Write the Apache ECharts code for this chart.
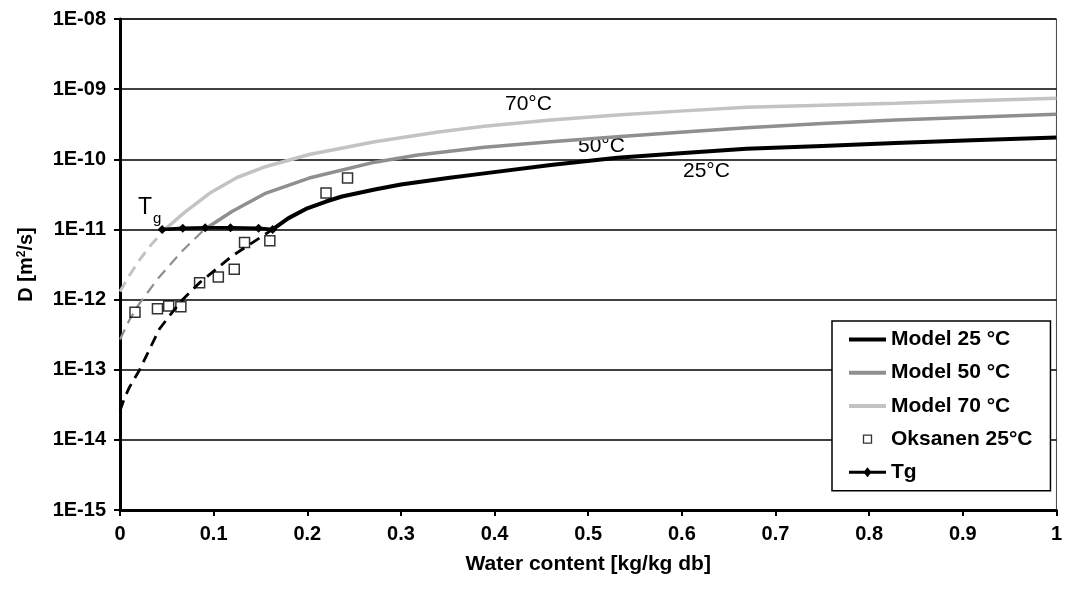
<!DOCTYPE html>
<html>
<head>
<meta charset="utf-8">
<title>D vs water content</title>
<script src="https://cdn.jsdelivr.net/npm/echarts@6/dist/echarts.min.js"></script>
<style>
  html, body { margin: 0; padding: 0; background: #fff; }
  #chart { width: 1065px; height: 589px; }
</style>
</head>
<body>
<div id="chart"></div>
<script>
// values: x = water content [kg/kg db], D in m2/s
const x25Dash = [0, 0.005, 0.01, 0.021, 0.042, 0.064, 0.085, 0.12, 0.163]
const d25Dash = [2.6e-14, 4.0e-14, 5.6e-14, 1.0e-13, 3.8e-13, 9.1e-13, 1.74e-12, 4.2e-12, 1.0e-11]
const x25 = [0.163, 0.18, 0.2, 0.22, 0.237, 0.272, 0.3, 0.35, 0.389, 0.46, 0.531, 0.602, 0.669, 0.75, 0.828, 0.91, 1.0]
const d25 = [1.0e-11, 1.45e-11, 2.0e-11, 2.5e-11, 2.95e-11, 3.7e-11, 4.37e-11, 5.4e-11, 6.3e-11, 8.3e-11, 1.05e-10, 1.23e-10, 1.41e-10, 1.55e-10, 1.7e-10, 1.87e-10, 2.05e-10]

const x50Dash = [0, 0.01, 0.02, 0.04, 0.065, 0.09]
const d50Dash = [2.7e-13, 5.1e-13, 8.5e-13, 1.95e-12, 4.7e-12, 1.0e-11]
const x50 = [0.09, 0.12, 0.156, 0.202, 0.272, 0.318, 0.389, 0.46, 0.531, 0.602, 0.669, 0.75, 0.828, 0.91, 1.0]
const d50 = [1.0e-11, 1.82e-11, 3.3e-11, 5.4e-11, 9.1e-11, 1.15e-10, 1.48e-10, 1.78e-10, 2.09e-10, 2.45e-10, 2.82e-10, 3.24e-10, 3.63e-10, 3.98e-10, 4.37e-10]

const x70Dash = [0, 0.01, 0.021, 0.033, 0.048]
const d70Dash = [1.3e-12, 2.2e-12, 3.7e-12, 6.0e-12, 1.0e-11]
const x70 = [0.048, 0.07, 0.096, 0.125, 0.156, 0.202, 0.272, 0.34, 0.389, 0.46, 0.531, 0.602, 0.669, 0.75, 0.828, 0.91, 1.0]
const d70 = [1.0e-11, 1.8e-11, 3.3e-11, 5.5e-11, 7.9e-11, 1.17e-10, 1.78e-10, 2.45e-10, 2.95e-10, 3.63e-10, 4.27e-10, 4.9e-10, 5.5e-10, 5.9e-10, 6.3e-10, 6.84e-10, 7.4e-10]

const xOksanen = [0.016, 0.040, 0.052, 0.065, 0.085, 0.105, 0.122, 0.133, 0.160, 0.220, 0.243]
const dOksanen = [6.6e-13, 7.4e-13, 8.1e-13, 7.9e-13, 1.74e-12, 2.1e-12, 2.7e-12, 6.5e-12, 6.9e-12, 3.3e-11, 5.4e-11]

const xTg = [0.045, 0.067, 0.091, 0.118, 0.148, 0.163]
const dTg = [1.0e-11, 1.04e-11, 1.06e-11, 1.06e-11, 1.04e-11, 1.0e-11]

const yTickLabels = ['1E-15', '1E-14', '1E-13', '1E-12', '1E-11', '1E-10', '1E-09', '1E-08']
const legendNames = ['Model 25 °C', 'Model 50 °C', 'Model 70 °C', 'Oksanen 25°C', 'Tg']

const FONT = '"Liberation Sans", Arial, sans-serif'
const GREY50 = '#8f8f8f'
const GREY70 = '#c3c3c3'

const pairs = (xs, ys) => xs.map((x, i) => [x, ys[i]])

let chart = echarts.init(document.getElementById('chart'))

function lineSeries (name, xs, ys, color, width, dashed) {
  return {
    name: name,
    type: 'line',
    data: pairs(xs, ys),
    symbol: 'none',
    lineStyle: { color: color, width: width, type: dashed ? [11, 7] : 'solid' },
    itemStyle: { color: color },
    z: 3
  }
}

// legend icons: plain bar for the model lines, bar + diamond for Tg
const barIcon = 'path://M0,0H37V4H0Z'
const tgIcon = 'path://M0,5.5H37V8.5H0Z M18.5,2L22.5,7L18.5,12L14.5,7Z'

let option = {
  animation: false,
  backgroundColor: '#fff',
  grid: {
    left: 120, right: 3, top: 19, bottom: 79,
    show: true, borderColor: '#444', borderWidth: 1
  },
  xAxis: {
    type: 'value',
    min: 0, max: 1, interval: 0.1,
    name: 'Water content [kg/kg db]',
    nameLocation: 'middle',
    nameGap: 44,
    nameTextStyle: { fontFamily: FONT, fontWeight: 'bold', fontSize: 21, color: '#000' },
    axisLine: { lineStyle: { color: '#000', width: 3 } },
    axisTick: { show: true, length: 6, lineStyle: { color: '#000', width: 2 } },
    axisLabel: { fontFamily: FONT, fontWeight: 'bold', fontSize: 20, color: '#000', margin: 14 },
    splitLine: { show: false }
  },
  yAxis: {
    type: 'log',
    logBase: 10,
    min: 1e-15, max: 1e-8, interval: 1,
    name: 'D [m{sup|2}/s]',
    nameLocation: 'middle',
    nameGap: 84,
    nameTextStyle: {
      fontFamily: FONT, fontWeight: 'bold', fontSize: 20, color: '#000',
      rich: { sup: { fontFamily: FONT, fontWeight: 'bold', fontSize: 12, color: '#000', verticalAlign: 'top', padding: [0, 0, 8, 0] } }
    },
    axisLine: { show: true, lineStyle: { color: '#000', width: 3 } },
    axisTick: { show: true, length: 6, lineStyle: { color: '#000', width: 2 } },
    axisLabel: {
      fontFamily: FONT, fontWeight: 'bold', fontSize: 20, color: '#000', margin: 14,
      formatter: v => yTickLabels[Math.round(Math.log10(v)) + 15]
    },
    splitLine: { show: true, lineStyle: { color: '#000', width: 1.6 } },
    minorTick: { show: false }
  },
  legend: {
    orient: 'vertical',
    left: 832, top: 321,
    padding: [8, 18, 8, 17],
    itemGap: 12.2,
    itemWidth: 37,
    itemHeight: 14,
    backgroundColor: '#fff',
    borderColor: '#000',
    borderWidth: 1.5,
    selectedMode: false,
    textStyle: { fontFamily: FONT, fontWeight: 'bold', fontSize: 21, color: '#000' },
    data: [
      { name: legendNames[0], icon: barIcon, itemStyle: { color: '#000' } },
      { name: legendNames[1], icon: barIcon, itemStyle: { color: GREY50 } },
      { name: legendNames[2], icon: barIcon, itemStyle: { color: GREY70 } },
      {
        name: legendNames[3],
        icon: 'path://M0,0L0,0M14,14L14,14M3,3H11V11H3Z',
        itemStyle: { color: 'rgba(0,0,0,0)', borderColor: '#000', borderWidth: 1.3 }
      },
      { name: legendNames[4], icon: tgIcon, itemStyle: { color: '#000' } }
    ]
  },
  series: [
    lineSeries('m70dash', x70Dash, d70Dash, GREY70, 3, true),
    lineSeries(legendNames[2], x70, d70, GREY70, 3.5, false),
    lineSeries('m50dash', x50Dash, d50Dash, GREY50, 2.2, true),
    lineSeries(legendNames[1], x50, d50, GREY50, 3.5, false),
    lineSeries('m25dash', x25Dash, d25Dash, '#000', 2.8, true),
    lineSeries(legendNames[0], x25, d25, '#000', 4, false),
    {
      name: legendNames[4],
      type: 'line',
      data: pairs(xTg, dTg),
      symbol: 'diamond',
      symbolSize: 9,
      lineStyle: { color: '#000', width: 3.5 },
      itemStyle: { color: '#000' },
      z: 5
    },
    {
      name: legendNames[3],
      type: 'scatter',
      data: pairs(xOksanen, dOksanen),
      symbol: 'rect',
      symbolSize: 10,
      itemStyle: { color: 'rgba(0,0,0,0)', borderColor: '#000', borderWidth: 1.5 },
      z: 6
    }
  ],
  graphic: [
    { type: 'text', left: 505, top: 94, style: { text: '70°C', font: '21px ' + FONT, fill: '#000' } },
    { type: 'text', left: 578, top: 136, style: { text: '50°C', font: '21px ' + FONT, fill: '#000' } },
    { type: 'text', left: 683, top: 161, style: { text: '25°C', font: '21px ' + FONT, fill: '#000' } },
    { type: 'text', left: 138, top: 196, style: { text: 'T', font: '23px ' + FONT, fill: '#000' } },
    { type: 'text', left: 153, top: 211, style: { text: 'g', font: '15px ' + FONT, fill: '#000' } }
  ]
}

chart.setOption(option)
</script>
</body>
</html>
